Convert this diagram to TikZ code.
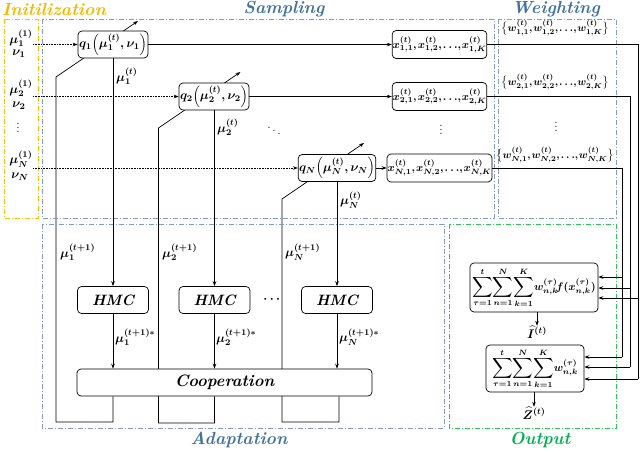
\documentclass[tikz,border=0pt]{standalone}
\usepackage{fix-cm}
\usepackage{amsmath}
\usepackage{graphicx}
\usetikzlibrary{arrows.meta,backgrounds,calc}
\definecolor{frameblue}{HTML}{7F9FC4}
\definecolor{titleblue}{HTML}{41719C}
\definecolor{frameorange}{HTML}{FFC000}
\definecolor{titleorange}{HTML}{F5B800}
\definecolor{framegreen}{HTML}{2FC35A}
\definecolor{titlegreen}{HTML}{00B050}
\newcommand{\Bsum}{\mathop{\vcenter{\hbox{\scalebox{1.3}{$\displaystyle\sum$}}}}\limits}
\newcommand{\tc}{{,}\mkern1.5mu}
\newcommand{\tdots}{{\ldots}{,}\mkern1mu}
\begin{document}
\begin{tikzpicture}[x=1pt,y=-1pt,
  mfont/.style={font=\boldmath\fontsize{12.5}{14}\selectfont},
  rbox/.style={draw, rounded corners=4pt, fill=white, line width=0.7pt, inner sep=1pt, mfont},
  qbox/.style={rbox, minimum width=70pt, minimum height=27pt},
  xbox/.style={rbox, minimum width=93pt, minimum height=28pt, inner sep=0.5pt, font=\boldmath\fontsize{11}{13}\selectfont},
  hbox/.style={rbox, minimum width=71pt, minimum height=27pt, font=\fontsize{15}{17}\selectfont\bfseries\itshape},
  lbl/.style={inner sep=0pt, mfont},
  wlbl/.style={inner sep=0pt, font=\boldmath\fontsize{10.5}{12}\selectfont},
  sbox/.style={rbox, inner sep=0.5pt, font=\boldmath\fontsize{11}{13}\selectfont},
  conn/.style={line width=0.7pt, line join=miter},
  arr/.style={conn, -{Stealth[length=5pt,width=3.6pt]}},
  dotarr/.style={arr, dash pattern=on 0.8pt off 0.8pt},
  frameB/.style={draw=frameblue, line width=0.8pt, dash pattern=on 5pt off 2pt on 1pt off 2pt},
  frameO/.style={frameB, draw=frameorange},
  frameG/.style={frameB, draw=framegreen},
  title/.style={inner sep=0pt, font=\fontsize{17.5}{19}\selectfont\bfseries\itshape}
]
\useasboundingbox (0,0) rectangle (640,451);

% frames
\draw[frameO] (4,19) rectangle (38,218);
\draw[frameB] (42,19) rectangle (494,218);
\draw[frameB] (498,19) rectangle (616,218);
\draw[frameB] (42,224) rectangle (444,428);
\draw[frameG] (449,224) rectangle (616,428);

% titles
\node[title, text=titleorange] (tI) at (54,9) {Initilization};
\node[title, text=titleblue] (tS) at (284,9) {Sampling};
\node[title, text=titleblue] (tW) at (556,9) {Weighting};
\node[title, text=titleblue] (tA) at (239,440) {Adaptation};
\node[title, text=titlegreen] (tO) at (540,440) {Output};

% initialization labels
\node[lbl] (m1) at (21,38) {$\mu_1^{(1)}$};
\node[lbl] (v1) at (19,54) {$\nu_1$};
\node[lbl] (m2) at (21,88) {$\mu_2^{(1)}$};
\node[lbl] (v2) at (19,106) {$\nu_2$};
\node[lbl] (id) at (18,125) {$\vdots$};
\node[lbl] (mN) at (21,159) {$\mu_N^{(1)}$};
\node[lbl] (vN) at (20,177) {$\nu_N$};
\coordinate (s1) at (33,44.5);
\coordinate (s2) at (33,96.5);
\coordinate (sN) at (33,168);

% proposals
\node[qbox] (q1) at (113,44.5) {$q_1\!\left(\mu_1^{(t)},\nu_1\right)$};
\node[qbox] (q2) at (214,96.5) {$q_2\!\left(\mu_2^{(t)},\nu_2\right)$};
\node[qbox] (qN) at (337,168) {$q_N\!\left(\mu_N^{(t)},\nu_N\right)$};
\node[lbl] (qd) at (274,128) {$\ddots$};

% samples
\node[xbox] (x1) at (439.5,44.5) {$x_{1,1}^{(t)}\tc x_{1,2}^{(t)}\tc\tdots x_{1,K}^{(t)}$};
\node[xbox] (x2) at (439.5,96.5) {$x_{2,1}^{(t)}\tc x_{2,2}^{(t)}\tc\tdots x_{2,K}^{(t)}$};
\node[xbox] (xN) at (439.5,168) {$x_{N,1}^{(t)}\tc x_{N,2}^{(t)}\tc\tdots x_{N,K}^{(t)}$};
\node[lbl] (xd) at (441,127) {$\vdots$};

% weights
\node[wlbl] (w1) at (555,28) {$\bigl\{w_{1,1}^{(t)}\tc w_{1,2}^{(t)}\tc\tdots w_{1,K}^{(t)}\bigr\}$};
\node[wlbl] (w2) at (555,82) {$\bigl\{w_{2,1}^{(t)}\tc w_{2,2}^{(t)}\tc\tdots w_{2,K}^{(t)}\bigr\}$};
\node[wlbl] (wN) at (555,155) {$\bigl\{w_{N,1}^{(t)}\tc w_{N,2}^{(t)}\tc\tdots w_{N,K}^{(t)}\bigr\}$};
\node[lbl] (wd) at (556,124) {$\vdots$};

% adaptation
\node[hbox] (h1) at (113,300) {HMC};
\node[hbox] (h2) at (214.5,300) {HMC};
\node[hbox] (hN) at (337,300) {HMC};
\node[lbl] (hd) at (273,300) {$\cdots$};
\node[rbox, minimum width=295pt, minimum height=27pt, font=\fontsize{16.5}{18}\selectfont\bfseries\itshape] (coop) at (224.5,382.5) {Cooperation};

\node[lbl, anchor=west] (lt1) at (116,76) {$\mu_1^{(t)}$};
\node[lbl, anchor=west] (lt2) at (217,127) {$\mu_2^{(t)}$};
\node[lbl, anchor=west] (ltN) at (340,200) {$\mu_N^{(t)}$};
\node[lbl, anchor=west] (lu1) at (60,252) {$\mu_1^{(t+1)}$};
\node[lbl, anchor=west] (lu2) at (162,252) {$\mu_2^{(t+1)}$};
\node[lbl, anchor=west] (luN) at (285,252) {$\mu_N^{(t+1)}$};
\node[lbl, anchor=west] (ls1) at (115,337) {$\mu_1^{(t+1)*}$};
\node[lbl, anchor=west] (ls2) at (216,337) {$\mu_2^{(t+1)*}$};
\node[lbl, anchor=west] (lsN) at (339,337) {$\mu_N^{(t+1)*}$};

% output
\node[sbox, minimum width=128pt, minimum height=49pt] (sumI) at (534,287.5)
  {$\Bsum_{\tau=1}^{t}\!\Bsum_{n=1}^{N}\!\Bsum_{k=1}^{K}\! w_{n,k}^{(\tau)}\!f(x_{n,k}^{(\tau)})$};
\node[sbox, minimum width=98pt, minimum height=47pt] (sumZ) at (535,368.5)
  {$\Bsum_{\tau=1}^{t}\!\Bsum_{n=1}^{N}\!\Bsum_{k=1}^{K}\! w_{n,k}^{(\tau)}$};
\node[lbl] (Ih) at (537,332) {$\widehat{I}^{(t)}$};
\node[lbl] (Zh) at (534,413) {$\widehat{Z}^{(t)}$};

% coordinates for routing
\coordinate (b1) at (113,422); \coordinate (c1) at (56,422); \coordinate (d1) at (56,77); \coordinate (e1) at (138,21);
\coordinate (b2) at (214.5,423); \coordinate (c2) at (158.5,423); \coordinate (d2) at (158.5,128); \coordinate (e2) at (240.5,72);
\coordinate (bN) at (339,422); \coordinate (cN) at (282,422); \coordinate (dN) at (282,199); \coordinate (eN) at (364,143);
\coordinate (r1) at (638,44.5); \coordinate (r1a) at (638,298); \coordinate (r1b) at (638,379);
\coordinate (r2) at (630,96.5); \coordinate (r2a) at (630,288); \coordinate (r2b) at (630,367);
\coordinate (rN) at (622,168); \coordinate (rNa) at (622,277); \coordinate (rNb) at (622,357);

\begin{pgfonlayer}{background}
\draw[arr] (coop.south -| b1) -- (b1) -- (c1) -- (d1) -- (e1);
\draw[arr] (coop.south -| b2) -- (b2) -- (c2) -- (d2) -- (e2);
\draw[arr] (coop.south -| bN) -- (bN) -- (cN) -- (dN) -- (eN);
\end{pgfonlayer}

\draw[dotarr] (s1) -- (q1);
\draw[dotarr] (s2) -- (q2);
\draw[dotarr] (sN) -- (qN);
\draw[arr] (q1) -- (x1);
\draw[arr] (q2) -- (x2);
\draw[arr] (qN) -- (xN);
\draw[arr] (q1) -- (h1);
\draw[arr] (q2.south -| h2) -- (h2);
\draw[arr] (qN) -- (hN);
\draw[arr] (h1) -- (h1 |- coop.north);
\draw[arr] (h2) -- (h2 |- coop.north);
\draw[arr] (hN) -- (hN |- coop.north);

\draw[conn] (x1) -- (r1) -- (r1b);
\draw[conn] (x2) -- (r2) -- (r2b);
\draw[conn] (xN) -- (rN) -- (rNb);
\draw[arr] (r1a) -- (r1a -| sumI.east);
\draw[arr] (r2a) -- (r2a -| sumI.east);
\draw[arr] (rNa) -- (rNa -| sumI.east);
\draw[arr] (r1b) -- (r1b -| sumZ.east);
\draw[arr] (r2b) -- (r2b -| sumZ.east);
\draw[arr] (rNb) -- (rNb -| sumZ.east);
\draw[arr] (Ih.north |- sumI.south) -- (Ih.north);
\draw[arr] (Zh.north |- sumZ.south) -- (Zh.north);
\end{tikzpicture}
\end{document}
